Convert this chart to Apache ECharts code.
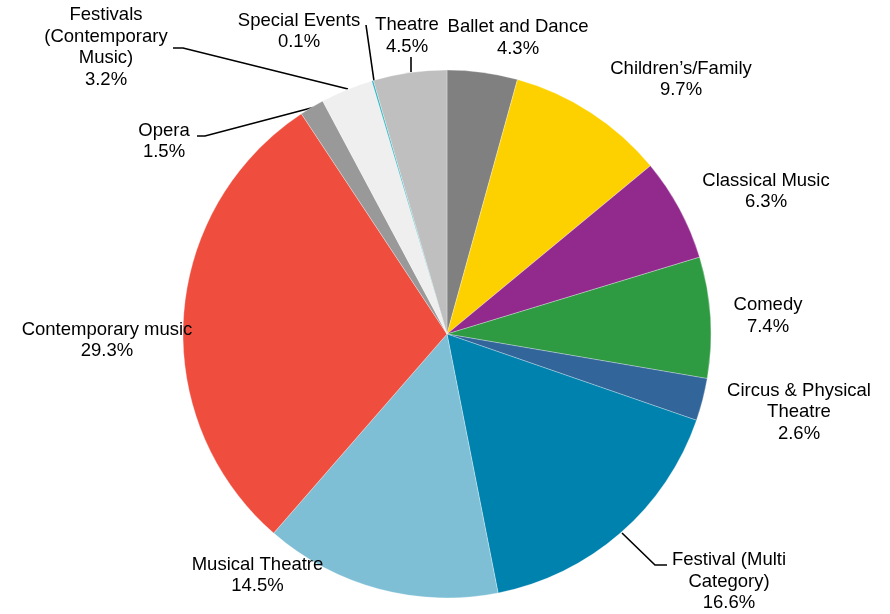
<!DOCTYPE html>
<html>
<head>
<meta charset="utf-8">
<script src="https://cdn.jsdelivr.net/npm/echarts@6/dist/echarts.min.js"></script>
<style>
  html, body { margin: 0; padding: 0; background: #fff; }
  #chart { width: 890px; height: 614px; }
</style>
</head>
<body>
<div id="chart"></div>
<script>
// Attendance share by art form, clockwise from 12 o'clock
const categories = [
  'Ballet and Dance',
  'Children\u2019s/Family',
  'Classical Music',
  'Comedy',
  'Circus & Physical\nTheatre',
  'Festival (Multi\nCategory)',
  'Musical Theatre',
  'Contemporary music',
  'Opera',
  'Festivals\n(Contemporary\nMusic)',
  'Special Events',
  'Theatre'
];
const shares = [4.3, 9.7, 6.3, 7.4, 2.6, 16.6, 14.5, 29.3, 1.5, 3.2, 0.1, 4.5];
const sliceColors = [
  '#808080', '#FDD100', '#922A8E', '#2E9A41', '#32659A', '#0082AE',
  '#7FBFD6', '#EF4D3E', '#999999', '#EFEFEF', '#1DB2C2', '#BFBFBF'
];

// Label placement (centre of each text block) and leader lines, in pixels
const labelPos = [
  [518, 38], [681, 79.5], [766, 191.5], [768, 316], [799, 412], [729, 581.5],
  [257.5, 575.5], [107, 340.5], [164, 141.5], [106, 47.5], [299, 31.5], [407, 36]
];
const leaderLines = {
  5: [[622, 533], [655, 565], [667, 565]],
  8: [[197, 136], [205, 136], [313, 107.5]],
  9: [[173, 48], [183, 48], [348, 89]],
  10: [[366, 25], [374, 81]],
  11: [[411, 57], [411, 72]]
};
const leaderStyle = { color: '#000000', width: 1.6 };

const chart = echarts.init(document.getElementById('chart'), null, { renderer: 'canvas' });

const data = categories.map((name, i) => ({
  name: name,
  value: shares[i],
  itemStyle: { color: sliceColors[i] },
  labelLine: { show: !!leaderLines[i], lineStyle: leaderStyle }
}));

chart.setOption({
  animation: false,
  backgroundColor: '#ffffff',
  series: [{
    type: 'pie',
    center: [447, 334],
    radius: 264,
    startAngle: 90,
    clockwise: true,
    avoidLabelOverlap: false,
    data: data,
    itemStyle: { borderColor: '#ffffff', borderWidth: 0.3 },
    label: {
      show: true,
      position: 'outside',
      formatter: p => p.name + '\n' + p.value.toFixed(1) + '%',
      fontFamily: 'Liberation Sans, Arial, sans-serif',
      fontSize: 18.5,
      lineHeight: 21.5,
      color: '#000000',
      align: 'center'
    },
    labelLine: {
      show: false,
      smooth: false,
      lineStyle: leaderStyle
    },
    labelLayout: function (params) {
      const i = params.dataIndex;
      const out = {
        x: labelPos[i][0],
        y: labelPos[i][1],
        align: 'center',
        verticalAlign: 'middle'
      };
      if (leaderLines[i]) out.labelLinePoints = leaderLines[i];
      return out;
    },
    emphasis: { disabled: true }
  }]
});
</script>
</body>
</html>
